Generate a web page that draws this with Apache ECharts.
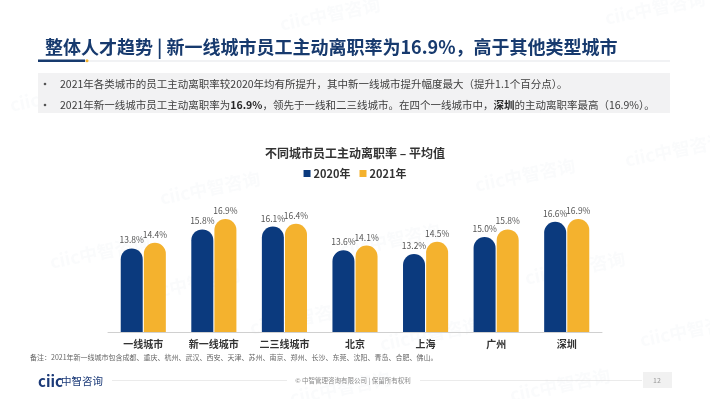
<!DOCTYPE html>
<html>
<head>
<meta charset="utf-8">
<script src="https://cdn.jsdelivr.net/npm/echarts@6/dist/echarts.min.js"></script>
<style>
  html, body { margin: 0; padding: 0; background: #fff; }
  #main { width: 710px; height: 399px; }
</style>
</head>
<body>
<div id="main"></div>
<script>
// 数据
var cities = ['一线城市', '新一线城市', '二三线城市', '北京', '上海', '广州', '深圳'];
var years = ['2020年', '2021年'];
var rate2020 = [13.8, 15.8, 16.1, 13.6, 13.2, 15.0, 16.6];
var rate2021 = [14.4, 16.9, 16.4, 14.1, 14.5, 15.8, 16.9];

var NAVY = '#0b3a7e';
var GOLD = '#f4b22e';
var FONT = '"Noto Sans CJK SC", "Noto Sans", sans-serif';

// 水印
var marks = [
    [330, 14], [655, 8], [60, 95], [210, 188], [525, 175], [100, 252],
    [390, 240], [575, 268], [190, 284], [300, 318], [430, 334], [675, 150],
    [560, 385], [340, 388], [690, 330]
];
var watermark = marks.map(function (p) {
    return {
        type: 'text', x: p[0], y: p[1], rotation: 0.2, silent: true, z: 0,
        style: {
            text: 'ciic中智咨询', font: 'bold 18px ' + FONT,
            fill: 'rgba(120,135,160,0.035)', align: 'center', verticalAlign: 'middle'
        }
    };
});

var chart = echarts.init(document.getElementById('main'));
var option = {
    backgroundColor: '#fff',
    animation: false,
    textStyle: { fontFamily: FONT },
    title: {
        text: '不同城市员工主动离职率 – 平均值',
        left: 'center',
        top: 142,
        textStyle: { fontSize: 12, fontWeight: 'bold', color: '#333' }
    },
    legend: {
        data: years,
        top: 163,
        left: 'center',
        icon: 'rect',
        itemWidth: 7,
        itemHeight: 7,
        itemGap: 9,
        textStyle: { fontSize: 11, fontWeight: 'bold', color: '#333', padding: [0, 0, 0, -2] }
    },
    grid: { left: 108, right: 108, top: 189.5, bottom: 67 },
    xAxis: {
        type: 'category',
        data: cities,
        axisLine: { lineStyle: { color: '#d0d0d0', width: 1 } },
        axisTick: { show: false },
        axisLabel: { fontSize: 10, fontWeight: 'bold', color: '#333', margin: 7 }
    },
    yAxis: {
        type: 'value',
        min: 5,
        max: 20,
        show: false,
        splitLine: { show: false }
    },
    series: [
        {
            name: years[0], type: 'bar', data: rate2020,
            barWidth: 22, barGap: '5%',
            itemStyle: { color: NAVY, borderRadius: [11, 11, 0, 0] },
            label: {
                show: true, position: 'top', distance: 4,
                fontSize: 8.5, color: '#555',
                formatter: function (p) { return p.value.toFixed(1) + '%'; }
            }
        },
        {
            name: years[1], type: 'bar', data: rate2021,
            barWidth: 22,
            itemStyle: { color: GOLD, borderRadius: [11, 11, 0, 0] },
            label: {
                show: true, position: 'top', distance: 4,
                fontSize: 8.5, color: '#555',
                formatter: function (p) { return p.value.toFixed(1) + '%'; }
            }
        }
    ],
    graphic: watermark.concat([
        // 标题
        {
            type: 'text', x: 45, y: 47, z: 10,
            style: {
                text: '整体人才趋势 | 新一线城市员工主动离职率为16.9%，高于其他类型城市',
                font: 'bold 18px ' + FONT, fill: '#173a6e', verticalAlign: 'middle'
            }
        },
        { type: 'rect', shape: { x: 38, y: 60.5, width: 632, height: 1 }, style: { fill: '#e3e6ea' }, z: 9 },
        { type: 'rect', shape: { x: 38, y: 59.5, width: 47, height: 2.5 }, style: { fill: '#173a6e' }, z: 10 },
        { type: 'circle', shape: { cx: 87, cy: 60.8, r: 1.5 }, style: { fill: GOLD }, z: 10 },
        // 要点框
        { type: 'rect', shape: { x: 38, y: 73, width: 632, height: 40 }, style: { fill: '#f2f2f3' }, z: 5 },
        { type: 'circle', shape: { cx: 45, cy: 84, r: 1.3 }, style: { fill: '#555' }, z: 10 },
        { type: 'circle', shape: { cx: 45, cy: 105, r: 1.3 }, style: { fill: '#555' }, z: 10 },
        {
            type: 'text', x: 60, y: 84, z: 10,
            style: {
                text: '2021年各类城市的员工主动离职率较2020年均有所提升，其中新一线城市提升幅度最大（提升1.1个百分点）。',
                font: '10.5px ' + FONT, fill: '#404040', verticalAlign: 'middle'
            }
        },
        {
            type: 'text', x: 60, y: 105, z: 10,
            style: {
                text: '2021年新一线城市员工主动离职率为{b|16.9%}，领先于一线和二三线城市。在四个一线城市中，{b|深圳}的主动离职率最高（16.9%）。',
                font: '10.5px ' + FONT, fill: '#404040', verticalAlign: 'middle',
                rich: { b: { fontWeight: 'bold', fontSize: 10.5, fill: '#262626', fontFamily: FONT } }
            }
        },
        // 备注
        {
            type: 'text', x: 30, y: 357, z: 10,
            style: {
                text: '备注：2021年新一线城市包含成都、重庆、杭州、武汉、西安、天津、苏州、南京、郑州、长沙、东莞、沈阳、青岛、合肥、佛山。',
                font: '7px ' + FONT, fill: '#666', verticalAlign: 'middle'
            }
        },
        // 页脚
        {
            type: 'text', x: 38, y: 381, z: 10,
            style: { text: 'ciic', font: 'bold 15px ' + FONT, fill: '#1b3a78', verticalAlign: 'middle' }
        },
        {
            type: 'text', x: 61, y: 381.5, z: 10,
            style: { text: '中智咨询', font: '10.5px ' + FONT, fill: '#1b3a78', verticalAlign: 'middle' }
        },
        { type: 'rect', shape: { x: 112, y: 380.5, width: 175, height: 0.6 }, style: { fill: '#d8d8d8' }, z: 10 },
        { type: 'rect', shape: { x: 420, y: 380.5, width: 222, height: 0.6 }, style: { fill: '#d8d8d8' }, z: 10 },
        {
            type: 'text', x: 353, y: 380.5, z: 10,
            style: {
                text: '© 中智管理咨询有限公司 | 保留所有权利',
                font: '6.5px ' + FONT, fill: '#888', align: 'center', verticalAlign: 'middle'
            }
        },
        { type: 'rect', shape: { x: 643, y: 372, width: 29, height: 16 }, style: { fill: '#f1f1f1' }, z: 10 },
        {
            type: 'text', x: 657, y: 380.5, z: 11,
            style: { text: '12', font: '7px ' + FONT, fill: '#999', align: 'center', verticalAlign: 'middle' }
        }
    ])
};
chart.setOption(option);
</script>
</body>
</html>
